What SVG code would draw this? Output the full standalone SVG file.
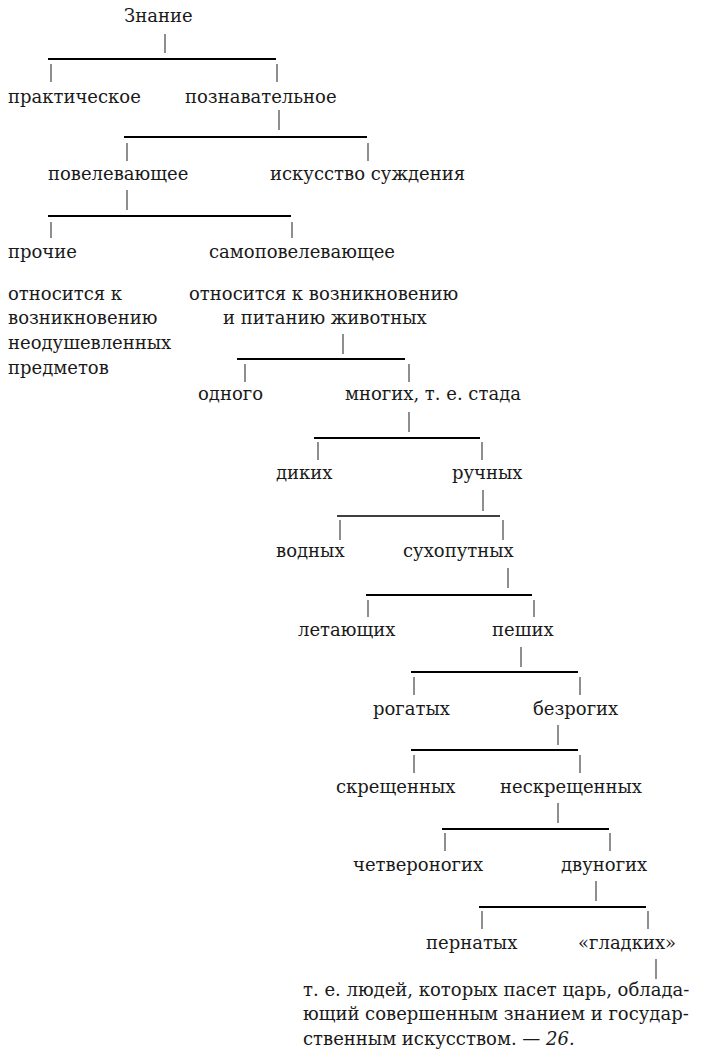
<svg xmlns="http://www.w3.org/2000/svg" width="728" height="1056" viewBox="0 0 728 1056">
<style>
text{font-size:18px;fill:#1a1a1a}
.h{stroke:#000;stroke-width:2;fill:none}
.hs{stroke:#000;stroke-width:1.3;fill:none}
.t{stroke:#333;stroke-width:1.1;fill:none}
</style>
<rect width="728" height="1056" fill="#fff"/>
<g id="connectors">
<path class="t" d="M165 34V53M51 64V82M277 64V82"/><path class="h" d="M48 59H276"/>
<path class="t" d="M279 110V130M127 143V161M368 143V161"/><path class="h" d="M124 137H367"/>
<path class="t" d="M127 190V210M51 222V238M292 222V238"/><path class="h" d="M48 216H291"/>
<path class="t" d="M343 334V354M245 364V382M409 364V382"/><path class="h" d="M237 359H405"/>
<path class="t" d="M409 412V432M318 442V460M482 442V460"/><path class="h" d="M314 438H480"/>
<path class="t" d="M483 490V511M340 520V540M503 520V540"/><path class="hs" d="M337 516H500"/>
<path class="t" d="M508 568V588M368 600V617M534 600V617"/><path class="h" d="M366 595H532"/>
<path class="t" d="M521 647V667M414 677V695M580 677V695"/><path class="h" d="M411 672H578"/>
<path class="t" d="M558 725V745M414 755V773M580 755V773"/><path class="h" d="M411 750H578"/>
<path class="t" d="M558 803V823M445 833V851M610 833V851"/><path class="h" d="M442 829H609"/>
<path class="t" d="M596 881V901M482 911V929M648 911V929"/><path class="h" d="M479 907H646"/>
<path class="t" d="M656 959V979"/>
</g>
<g id="n-znanie"><text x="124" y="22" font-family="DejaVu Serif">Знание</text></g>
<g id="n-prakt"><text x="8" y="103" font-family="DejaVu Serif">практическое</text></g>
<g id="n-pozn"><text x="185" y="103" font-family="DejaVu Serif">познавательное</text></g>
<g id="n-povel"><text x="48" y="180" font-family="DejaVu Serif">повелевающее</text></g>
<g id="n-isk"><text x="270" y="180" font-family="DejaVu Serif">искусство суждения</text></g>
<g id="n-prochie"><text x="8" y="258" font-family="DejaVu Serif">прочие</text>
<text x="8" y="300" font-family="DejaVu Serif">относится к</text>
<text x="8" y="324" font-family="DejaVu Serif">возникновению</text>
<text x="8" y="349" font-family="DejaVu Serif">неодушевленных</text>
<text x="8" y="374" font-family="DejaVu Serif">предметов</text></g>
<g id="n-samo"><text x="209" y="258" font-family="DejaVu Serif">самоповелевающее</text>
<text x="189" y="300" font-family="DejaVu Serif">относится к возникновению</text>
<text x="223" y="324" font-family="DejaVu Serif">и питанию животных</text></g>
<g id="n-odnogo"><text x="198" y="400" font-family="DejaVu Serif">одного</text></g>
<g id="n-mnogih"><text x="345" y="400" font-family="DejaVu Serif">многих, т. е. стада</text></g>
<g id="n-dikih"><text x="276" y="479" font-family="DejaVu Serif">диких</text></g>
<g id="n-ruchn"><text x="452" y="479" font-family="DejaVu Serif">ручных</text></g>
<g id="n-vodn"><text x="276" y="557" font-family="DejaVu Serif">водных</text></g>
<g id="n-suho"><text x="403" y="557" font-family="DejaVu Serif">сухопутных</text></g>
<g id="n-let"><text x="298" y="636" font-family="DejaVu Serif">летающих</text></g>
<g id="n-pesh"><text x="492" y="636" font-family="DejaVu Serif">пеших</text></g>
<g id="n-rog"><text x="373" y="715" font-family="DejaVu Serif">рогатых</text></g>
<g id="n-bezrog"><text x="533" y="715" font-family="DejaVu Serif">безрогих</text></g>
<g id="n-skr"><text x="336" y="793" font-family="DejaVu Serif">скрещенных</text></g>
<g id="n-neskr"><text x="500" y="793" font-family="DejaVu Serif">нескрещенных</text></g>
<g id="n-chetv"><text x="353" y="871" font-family="DejaVu Serif">четвероногих</text></g>
<g id="n-dvun"><text x="561" y="871" font-family="DejaVu Serif">двуногих</text></g>
<g id="n-pern"><text x="426" y="949" font-family="DejaVu Serif">пернатых</text></g>
<g id="n-glad"><text x="578" y="949" font-family="DejaVu Serif">«гладких»</text></g>
<g id="n-lyudi">
<text x="303" y="996" font-family="DejaVu Serif">т. е. людей, которых пасет царь, облада-</text>
<text x="303" y="1020" font-family="DejaVu Serif">ющий совершенным знанием и государ-</text>
<text x="303" y="1045" font-family="DejaVu Serif">ственным искусством. — <tspan font-style="italic">26.</tspan></text>
</g>
</svg>
